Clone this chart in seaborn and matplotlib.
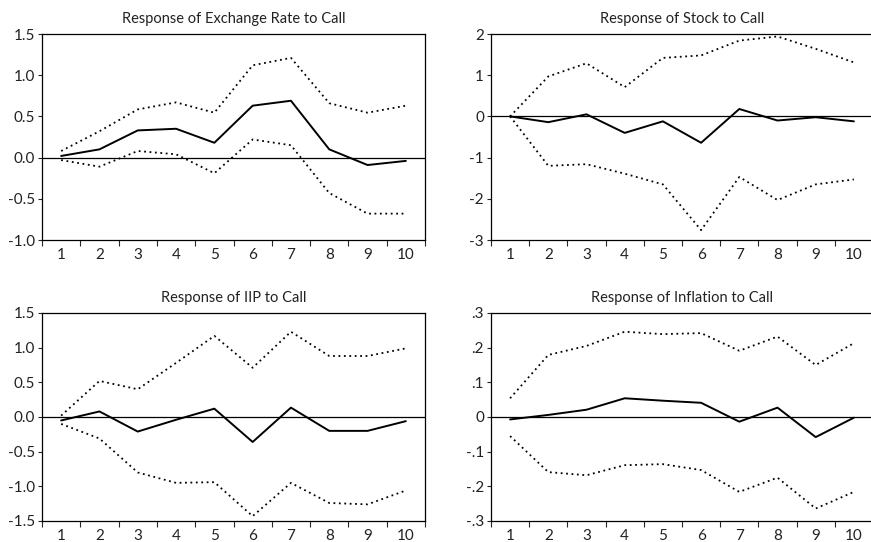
import matplotlib
matplotlib.use("Agg")
from matplotlib import pyplot as plt
from matplotlib.ticker import FixedLocator, FixedFormatter
import pandas as pd
import seaborn as sns

periods = list(range(1, 11))

# Exchange rate
exch_resp = [0.02, 0.10, 0.33, 0.35, 0.18, 0.63, 0.69, 0.10, -0.09, -0.04]
exch_upper = [0.08, 0.32, 0.585, 0.67, 0.545, 1.12, 1.21, 0.66, 0.545, 0.63]
exch_lower = [-0.03, -0.11, 0.08, 0.04, -0.19, 0.22, 0.15, -0.43, -0.68, -0.68]

# Stock
stock_resp = [0.0, -0.14, 0.05, -0.40, -0.12, -0.64, 0.18, -0.10, -0.02, -0.12]
stock_upper = [0.0, 0.97, 1.29, 0.71, 1.42, 1.48, 1.84, 1.94, 1.64, 1.31]
stock_lower = [0.0, -1.20, -1.16, -1.39, -1.65, -2.76, -1.47, -2.03, -1.65, -1.53]

# IIP
iip_resp = [-0.05, 0.08, -0.21, -0.04, 0.12, -0.36, 0.135, -0.20, -0.20, -0.06]
iip_upper = [0.02, 0.52, 0.40, 0.78, 1.17, 0.71, 1.23, 0.88, 0.88, 0.99]
iip_lower = [-0.10, -0.31, -0.80, -0.95, -0.94, -1.43, -0.95, -1.24, -1.26, -1.06]

# Inflation
infl_resp = [-0.007, 0.006, 0.021, 0.054, 0.047, 0.041, -0.0135, 0.027, -0.058, -0.002]
infl_upper = [0.054, 0.179, 0.205, 0.246, 0.239, 0.242, 0.191, 0.232, 0.15, 0.213]
infl_lower = [-0.055, -0.159, -0.168, -0.139, -0.136, -0.153, -0.216, -0.175, -0.264, -0.216]

panels = [
    ("Response of Exchange Rate to Call", exch_resp, exch_upper, exch_lower,
     [-1.0, -0.5, 0.0, 0.5, 1.0, 1.5], ["-1.0", "-0.5", "0.0", "0.5", "1.0", "1.5"]),
    ("Response of Stock to Call", stock_resp, stock_upper, stock_lower,
     [-3, -2, -1, 0, 1, 2], ["-3", "-2", "-1", "0", "1", "2"]),
    ("Response of IIP to Call", iip_resp, iip_upper, iip_lower,
     [-1.5, -1.0, -0.5, 0.0, 0.5, 1.0, 1.5], ["-1.5", "-1.0", "-0.5", "0.0", "0.5", "1.0", "1.5"]),
    ("Response of Inflation to Call", infl_resp, infl_upper, infl_lower,
     [-0.3, -0.2, -0.1, 0.0, 0.1, 0.2, 0.3], ["-.3", "-.2", "-.1", "0", ".1", ".2", ".3"]),
]

sns.set_style("white")
plt.rcParams["font.family"] = ["Lato", "DejaVu Sans"]
plt.rcParams["text.color"] = "#222222"
plt.rcParams["xtick.labelcolor"] = "#222222"
plt.rcParams["ytick.labelcolor"] = "#222222"

W, H = 871, 542
fig = plt.figure(figsize=(W / 100, H / 100), dpi=100)

# axes boxes in pixels: left, top, right, bottom
boxes = [(42, 34, 425, 240), (491, 34, 873, 240),
         (42, 313, 425, 521), (491, 313, 873, 521)]

for (title, resp, upper, lower, yt, ylab), (l, t, r, b) in zip(panels, boxes):
    ax = fig.add_axes([l / W, 1 - b / H, (r - l) / W, (b - t) / H])
    df = pd.DataFrame({"period": periods, "resp": resp, "upper": upper, "lower": lower})
    ax.axhline(0, color="black", lw=0.9)
    sns.lineplot(data=df, x="period", y="resp", ax=ax, color="black", lw=1.4)
    sns.lineplot(data=df, x="period", y="upper", ax=ax, color="black", lw=1.3,
                 linestyle=(0, (1, 2)))
    sns.lineplot(data=df, x="period", y="lower", ax=ax, color="black", lw=1.3,
                 linestyle=(0, (1, 2)))
    ax.set_xlim(0.5, 10.5)
    ax.set_ylim(yt[0], yt[-1])
    ax.xaxis.set_major_locator(FixedLocator(periods))
    ax.xaxis.set_major_formatter(FixedFormatter([str(p) for p in periods]))
    ax.xaxis.set_minor_locator(FixedLocator([p - 0.5 for p in periods] + [10.5]))
    ax.tick_params(axis="x", which="major", length=0, pad=6, labelsize=11)
    ax.tick_params(axis="x", which="minor", length=4, width=0.8, direction="out", bottom=True)
    ax.yaxis.set_major_locator(FixedLocator(yt))
    ax.yaxis.set_major_formatter(FixedFormatter(ylab))
    ax.tick_params(axis="y", length=3, width=0.8, direction="out", left=True, pad=2,
                   labelsize=11)
    ax.set_xlabel("")
    ax.set_ylabel("")
    for s in ax.spines.values():
        s.set_color("black")
        s.set_linewidth(0.9)
    ax.set_title(title, fontsize=10.5, pad=8)

fig.savefig("out.png", dpi=100, facecolor="white")
